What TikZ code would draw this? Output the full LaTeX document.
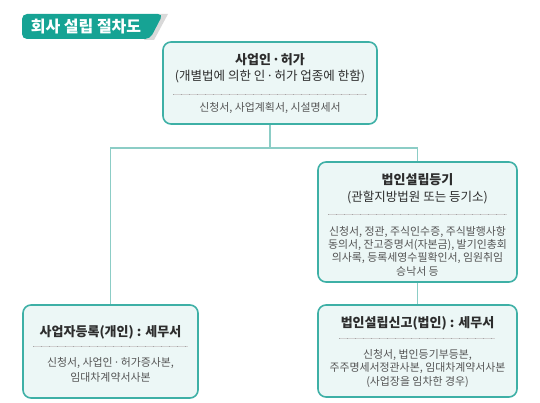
\documentclass[tikz,border=0pt]{standalone}
\usepackage{fontspec}
\setmainfont{Noto Sans CJK KR}
\usepackage{tikz}
\usetikzlibrary{calc}
\definecolor{boxTeal}{RGB}{62,176,166}
\definecolor{boxFill}{RGB}{236,247,246}
\definecolor{linkTeal}{RGB}{140,205,198}
\definecolor{bannerTeal}{RGB}{22,163,148}
\definecolor{inkText}{RGB}{45,45,45}
\definecolor{inkBody}{RGB}{85,85,85}
\newcommand{\mdot}{\makebox[0.75em]{·}}

\begin{document}
\begin{tikzpicture}[x=1pt,y=-1pt,
  box/.style={draw=boxTeal,line width=1.6pt,fill=boxFill,rounded corners=8pt},
  ttl/.style={font=\fontsize{13}{15}\selectfont\bfseries,text=inkText},
  sub/.style={font=\fontsize{12.5}{15}\selectfont,text=inkText},
  body/.style={font=\fontsize{10.9}{13.4}\selectfont,text=inkBody,align=center},
  sep/.style={draw=gray!35,line width=0.5pt,
              postaction={draw=gray!70,line width=0.9pt,dash pattern=on 0.6pt off 7.4pt}},
  link/.style={draw=linkTeal,line width=1.6pt}]
  \useasboundingbox (0,0) rectangle (540,403);
  % title banner
  \fill[gray!30] (158,14) -- (168,14) -- (154,40) -- (144,40) -- cycle;
  \fill[bannerTeal,rounded corners=5pt] (22,14) -- (163,14) -- (150,39) -- (22,39) -- cycle;
  \node[font=\fontsize{16}{18}\selectfont\bfseries,text=white] (head) at (86,27) {회사 설립 절차도};
  % boxes
  \node[box,minimum width=214,minimum height=82] (perm) at (270,83) {};
  \node[box,minimum width=199,minimum height=120] (reg) at (417.5,222) {};
  \node[box,minimum width=175,minimum height=93] (indiv) at (110.5,351.5) {};
  \node[box,minimum width=199,minimum height=92] (corp) at (417.5,351) {};
  % connectors
  \coordinate (bus) at (270,148);
  \draw[link] (perm.south) -- (bus);
  \draw[link] (indiv.north) |- (bus) -| (reg.north);
  \draw[link] (reg.south) -- (corp.north);
  % texts
  \node[ttl] (permT) at (270,60) {사업인\mdot 허가};
  \node[sub] (permS) at (270,77) {(개별법에 의한 인\mdot 허가 업종에 한함)};
  \draw[sep] (173,94) -- (367,94);
  \node[body] (permB) at (270,108) {신청서, 사업계획서, 시설명세서};

  \node[ttl] (regT) at (417.5,180) {법인설립등기};
  \node[sub] (regS) at (417.5,198) {(관할지방법원 또는 등기소)};
  \draw[sep] (328,214) -- (507,214);
  \node[body] (regB) at (417.5,251) {신청서, 정관, 주식인수증, 주식발행사항\\동의서, 잔고증명서(자본금), 발기인총회\\의사록, 등록세영수필확인서, 임원취임\\승낙서 등};

  \node[ttl] (indivT) at (110.5,332) {사업자등록(개인) : 세무서};
  \draw[sep] (33,346) -- (188,346);
  \node[body,font=\fontsize{10.9}{15}\selectfont] (indivB) at (110.5,369.5) {신청서, 사업인\mdot 허가증사본,\\임대차계약서사본};

  \node[ttl] (corpT) at (417.5,323) {법인설립신고(법인) : 세무서};
  \draw[sep] (339,338) -- (495,338);
  \node[body] (corpB) at (417.5,368.5) {신청서, 법인등기부등본,\\주주명세서정관사본, 임대차계약서사본\\(사업장을 임차한 경우)};
\end{tikzpicture}
\end{document}
